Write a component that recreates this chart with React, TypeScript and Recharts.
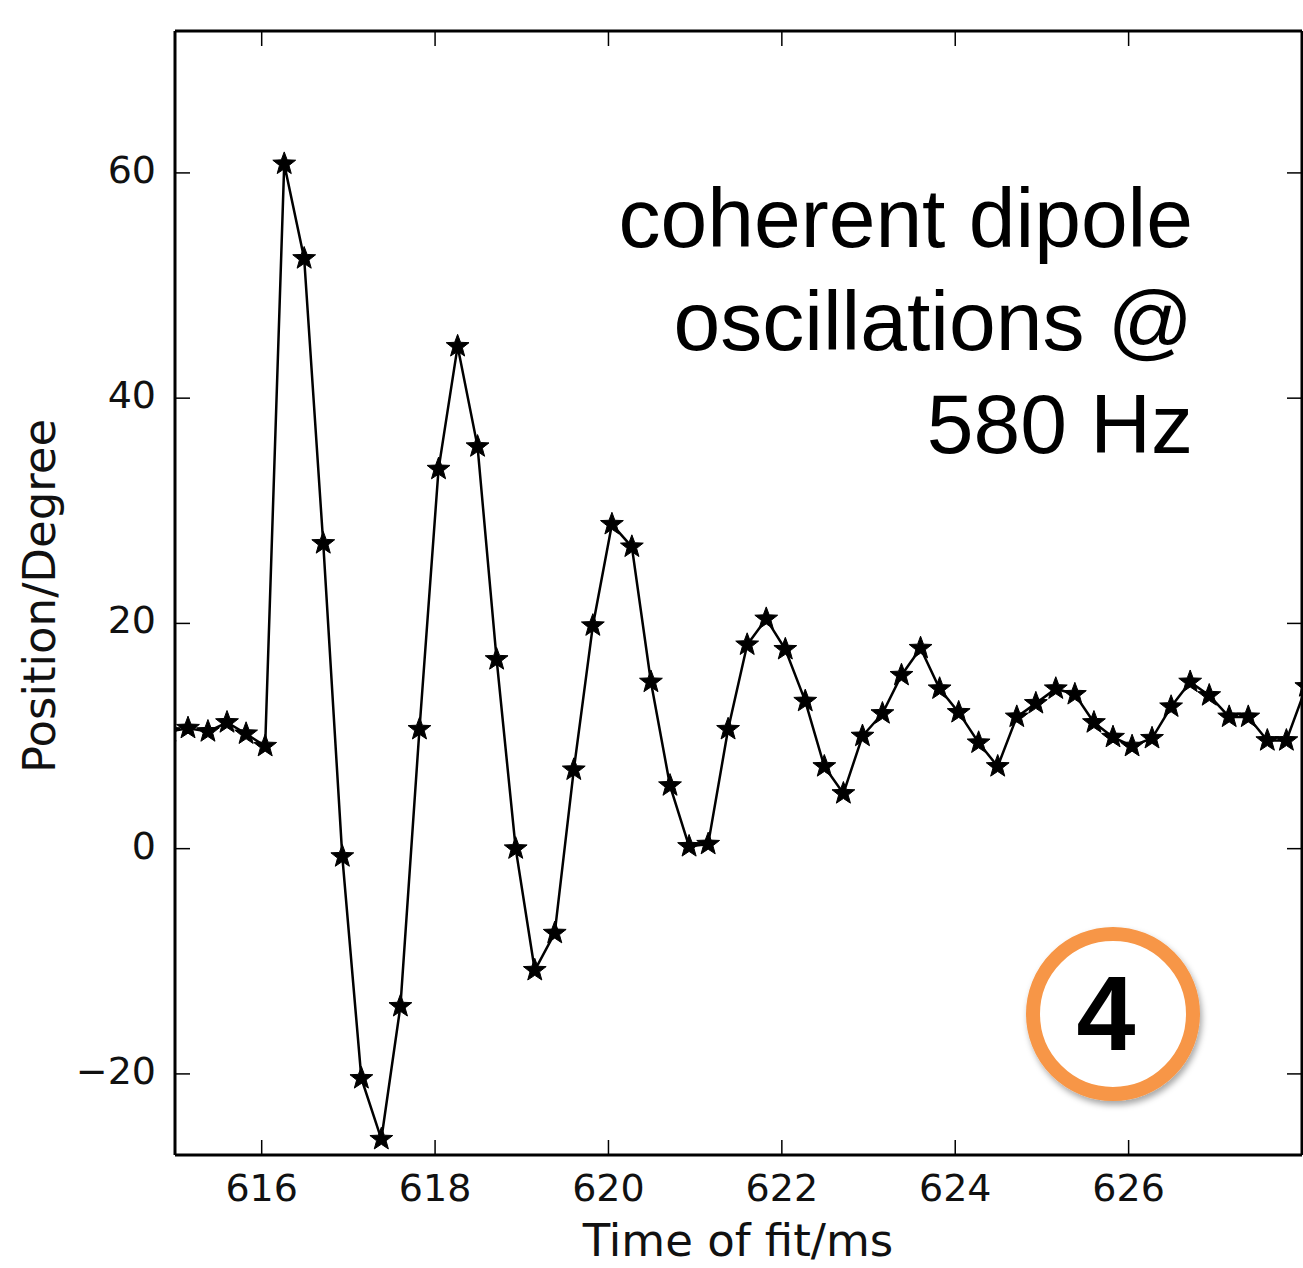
import { LineChart, Line, XAxis, YAxis } from "recharts";

// time of each fit (ms) and fitted position (degree)
const times = [
  614.93, 615.15, 615.38, 615.6, 615.82, 616.04, 616.26, 616.49, 616.71, 616.93,
  617.15, 617.38, 617.6, 617.82, 618.04, 618.26, 618.49, 618.71, 618.93, 619.15,
  619.38, 619.6, 619.82, 620.04, 620.27, 620.49, 620.71, 620.93, 621.15, 621.38,
  621.6, 621.82, 622.04, 622.27, 622.49, 622.71, 622.93, 623.16, 623.38, 623.6,
  623.82, 624.04, 624.27, 624.49, 624.71, 624.93, 625.16, 625.38, 625.6, 625.82,
  626.04, 626.27, 626.49, 626.71, 626.93, 627.16, 627.38, 627.6, 627.82, 628.05,
];
const positions = [
  10.4, 10.7, 10.4, 11.2, 10.2, 9.1, 60.8, 52.4, 27.1, -0.7,
  -20.4, -25.8, -14.0, 10.6, 33.7, 44.6, 35.7, 16.8, 0.0, -10.8,
  -7.5, 7.0, 19.8, 28.8, 26.8, 14.8, 5.6, 0.2, 0.4, 10.6,
  18.1, 20.4, 17.7, 13.1, 7.3, 4.9, 10.0, 12.0, 15.4, 17.8,
  14.2, 12.1, 9.4, 7.3, 11.7, 12.9, 14.2, 13.7, 11.2, 9.9,
  9.1, 9.8, 12.6, 14.8, 13.6, 11.7, 11.7, 9.6, 9.6, 14.4,
];
const xTicks = [616, 618, 620, 622, 624, 626];
const yTicks = [-20, 0, 20, 40, 60];
const xDomain = [615, 628];
const yDomain = [-27.2, 72.6];

const annotationLines = ["coherent dipole", "oscillations @", "580 Hz"];
const badge = "4";

const data = times.map((t, i) => ({ t, v: positions[i] }));

const TICK_FONT = "DejaVu Sans, sans-serif";
const TICK_LEN = 15;
const fmt = (v: number) => (v < 0 ? "\u2212" + Math.abs(v) : String(v));

const BottomTick = (props: any) => {
  const { x, y, payload } = props;
  return (
    <g>
      <line x1={x} y1={y} x2={x} y2={y - TICK_LEN} stroke="#000" strokeWidth={1.5} />
      <text x={x} y={y + 46} textAnchor="middle" fontFamily={TICK_FONT} fontSize={38} fill="#111">
        {fmt(payload.value)}
      </text>
    </g>
  );
};

const TopTick = (props: any) => {
  const { x, y } = props;
  return <line x1={x} y1={y} x2={x} y2={y + TICK_LEN} stroke="#000" strokeWidth={1.5} />;
};

const LeftTick = (props: any) => {
  const { x, y, payload } = props;
  return (
    <g>
      <line x1={x} y1={y} x2={x + TICK_LEN} y2={y} stroke="#000" strokeWidth={1.5} />
      <text x={x - 19} y={y + 10} textAnchor="end" fontFamily={TICK_FONT} fontSize={38} fill="#111">
        {fmt(payload.value)}
      </text>
    </g>
  );
};

const RightTick = (props: any) => {
  const { x, y } = props;
  return <line x1={x} y1={y} x2={x - TICK_LEN} y2={y} stroke="#000" strokeWidth={1.5} />;
};

const Star = (props: any) => {
  const { cx, cy } = props;
  if (cx == null || cy == null) return null;
  const pts: string[] = [];
  for (let i = 0; i < 10; i++) {
    const r = i % 2 === 0 ? 12 : 5;
    const a = -Math.PI / 2 + (i * Math.PI) / 5;
    pts.push(`${cx + r * Math.cos(a)},${cy + r * Math.sin(a)}`);
  }
  return <polygon points={pts.join(" ")} fill="#000" stroke="#000" strokeWidth={1} />;
};

const axisLine = { stroke: "#000", strokeWidth: 3 };

export default function App() {
  return (
    <div style={{ position: "absolute", left: 0, top: 0, width: 1303, height: 1268, background: "#fff" }}>
      <LineChart width={1303} height={1268} data={data} margin={{ top: 30, right: 0, bottom: 0, left: 0 }}>
        <XAxis
          xAxisId="b"
          dataKey="t"
          type="number"
          domain={xDomain}
          ticks={xTicks}
          allowDataOverflow
          height={113}
          axisLine={axisLine}
          tickLine={false}
          tickSize={0}
          tickMargin={0}
          tick={BottomTick}
        />
        <XAxis
          xAxisId="t"
          orientation="top"
          dataKey="t"
          type="number"
          domain={xDomain}
          ticks={xTicks}
          allowDataOverflow
          height={1}
          axisLine={axisLine}
          tickLine={false}
          tickSize={0}
          tickMargin={0}
          tick={TopTick}
        />
        <YAxis
          yAxisId="l"
          type="number"
          domain={yDomain}
          ticks={yTicks}
          allowDataOverflow
          width={175}
          axisLine={axisLine}
          tickLine={false}
          tickSize={0}
          tickMargin={0}
          tick={LeftTick}
        />
        <YAxis
          yAxisId="r"
          orientation="right"
          type="number"
          domain={yDomain}
          ticks={yTicks}
          allowDataOverflow
          width={1}
          axisLine={axisLine}
          tickLine={false}
          tickSize={0}
          tickMargin={0}
          tick={RightTick}
        />
        <Line
          xAxisId="b"
          yAxisId="l"
          dataKey="v"
          type="linear"
          stroke="#000"
          strokeWidth={2.5}
          dot={Star}
          activeDot={false}
          isAnimationActive={false}
        />
      </LineChart>
      <svg
        width={1303}
        height={1268}
        style={{ position: "absolute", left: 0, top: 0, pointerEvents: "none" }}
      >
        <defs>
          <filter id="shadow" x="-20%" y="-20%" width="140%" height="140%">
            <feDropShadow dx="2" dy="4" stdDeviation="3" floodColor="#000" floodOpacity="0.35" />
          </filter>
        </defs>
        <text x={738} y={1256} textAnchor="middle" fontFamily={TICK_FONT} fontSize={45} fill="#111">
          Time of fit/ms
        </text>
        <text
          transform="translate(55,596) rotate(-90)"
          textAnchor="middle"
          fontFamily={TICK_FONT}
          fontSize={45}
          fill="#111"
        >
          Position/Degree
        </text>
        {annotationLines.map((s, i) => (
          <text
            key={s}
            x={1193}
            y={247 + i * 103}
            textAnchor="end"
            fontFamily="Liberation Sans, Arial, sans-serif"
            fontSize={84}
            fill="#000"
          >
            {s}
          </text>
        ))}
        <circle cx={1113} cy={1014} r={80} fill="#fff" stroke="#F79646" strokeWidth={14} filter="url(#shadow)" />
        <text
          x={1106}
          y={1050}
          textAnchor="middle"
          fontFamily="Liberation Sans, Arial, sans-serif"
          fontWeight="bold"
          fontSize={106}
          fill="#000"
        >
          {badge}
        </text>
      </svg>
    </div>
  );
}
